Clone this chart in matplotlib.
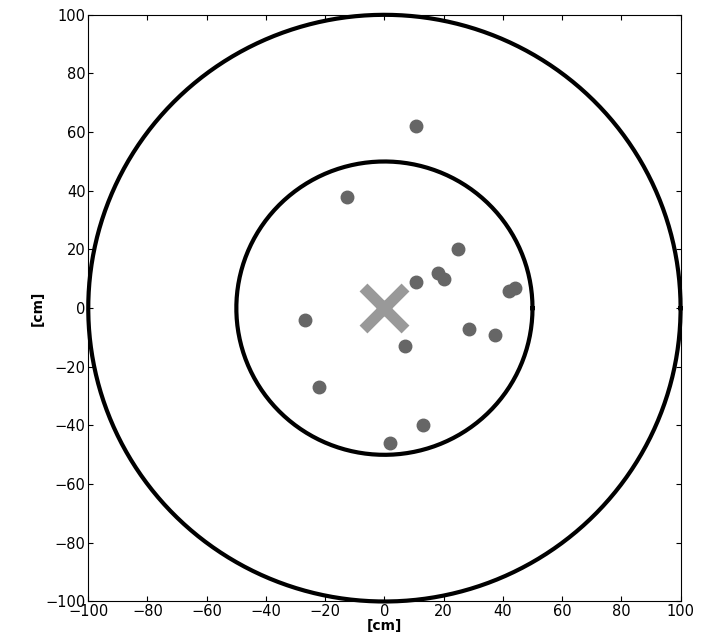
import matplotlib
matplotlib.use("Agg")
import matplotlib.pyplot as plt
import numpy as np

# hit positions [cm]
xs = [10.8, -12.8, 24.7, 10.8, 18, 20, 42, 44, -26.7, 28.7, 37.5, 7, -22, 13, 2]
ys = [62, 38, 20, 9, 12, 10, 6, 7, -4, -7, -9, -13, -27, -40, -46]
radii = [50, 100]
ticks = list(range(-100, 101, 20))

fig = plt.figure(figsize=(7.06, 6.44), dpi=100)
ax = fig.add_axes([0.125, 0.066, 0.839, 0.911])

t = np.linspace(0, 2 * np.pi, 400)
for r in radii:
    ax.plot(r * np.cos(t), r * np.sin(t), color='black', lw=3, clip_on=False)

ax.plot(xs, ys, 'o', color='#666666', ms=9)
ax.plot([0], [0], 'x', color='#999999', ms=30, mew=8)

ax.set_xlim(-100, 100)
ax.set_ylim(-100, 100)
ax.set_xticks(ticks)
ax.set_yticks(ticks)
ax.tick_params(direction='in', labelsize=10.5, top=True, right=True, pad=2)
ax.set_xlabel('[cm]', fontweight='bold', fontsize=10, labelpad=0)
ax.set_ylabel('[cm]', fontweight='bold', fontsize=10, labelpad=0)

plt.savefig('out.png')
